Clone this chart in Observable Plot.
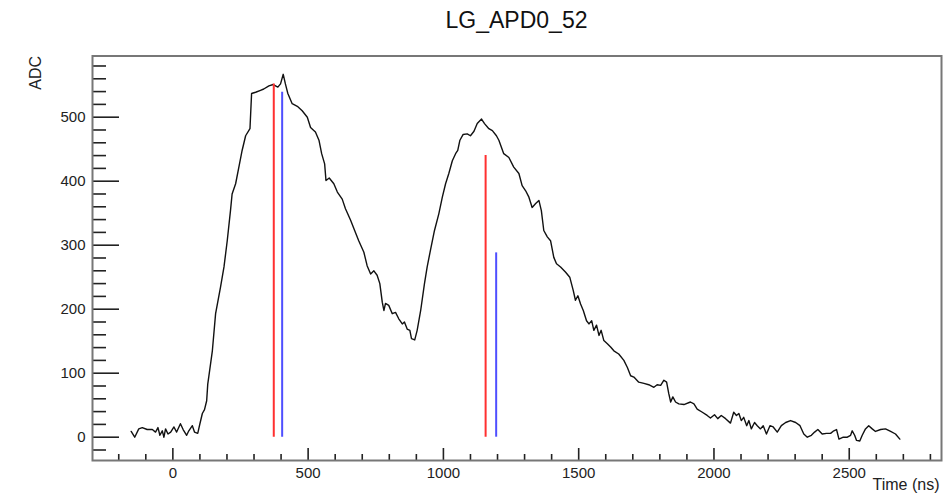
<!DOCTYPE html>
<html><head><meta charset="utf-8">
<script src="https://cdn.jsdelivr.net/npm/d3@7"></script>
<script src="https://cdn.jsdelivr.net/npm/@observablehq/plot@0.6"></script>
<style>
body{margin:0;background:#fff;font-family:"Liberation Sans",Arial,sans-serif;}
#title{height:40px;line-height:40px;font-size:23px;text-align:center;padding-left:92px;padding-right:4px;color:#111;box-sizing:border-box;width:945px;}
#chart svg{display:block;}
</style></head><body>
<div id="title"></div>
<div id="chart"></div>
<script>
const chartTitle = "LG_APD0_52";
const xLabel = "Time (ns)";
const yLabel = "ADC";

const timeNs = [-154,-141,-126,-113,-95,-76,-64,-55,-48,-39,-33,-27,-18,-8,4,14,28,38,51,59,72,80,92,100,109,117,125,129,
133,146,158,176,189,201,213,219,232,244,256,269,285,291,306,324,336,355,371,388,398,408,416,425,441,460,478,497,509,527,540,550,561,566,578,
595,608,626,638,657,669,687,706,718,731,743,755,765,774,780,786,798,811,823,835,848,856,866,876,882,894,903,916,930,940,952,967,983,996,1008,1020,1033,1045,1053,1061,1073,1088,1100,1113,1125,1141,1152,1168,1181,1196,
1205,1223,1242,1260,1279,1291,1304,1316,1328,1341,1353,1362,1371,1384,1396,1408,1418,1433,1451,1467,1480,1488,1497,1507,1517,1529,1538,1548,1556,1566,1575,1583,1593,1606,1618,1630,1648,1667,1680,1692,1704,1722,
1741,1759,1778,1790,1803,1815,1825,1833,1840,1848,1858,1870,1889,1913,1926,1938,1957,1975,1987,2002,2014,2027,2043,2061,2073,2083,2092,2101,2110,2121,2129,2138,2150,2160,2172,2182,2194,2207,2219,2234,2249,2265,2283,2302,2318,2332,2345,2360,2372,2384,2400,2416,2431,2443,2453,2462,2478,2493,2505,2511,2520,2527,2539,2548,2560,2572,2585,2597,2616,2634,2653,2671,2687];
const adc = [9,0,13,15,12,12,8,15,3,10,0,13,5,8,16,8,21,12,3,10,18,8,6,21,37,43,57,83,
95,135,193,234,266,307,354,380,396,422,448,471,482,537,539,542,544,549,551,547,552,567,552,537,521,517,510,500,484,477,464,443,427,401,405,
396,383,372,357,339,326,307,289,268,255,260,253,240,211,198,209,206,193,195,185,177,180,169,167,154,152,167,198,240,266,292,323,349,375,396,412,432,443,448,464,473,474,471,478,490,497,490,482,479,471,
464,443,437,422,412,393,385,375,359,365,370,354,323,313,307,281,271,266,258,250,229,214,221,208,198,182,177,182,167,175,159,167,151,146,141,135,130,120,109,96,94,86,
84,82,78,82,81,89,86,68,55,63,55,52,51,55,52,44,39,34,30,35,29,34,29,22,39,34,37,26,31,18,26,13,23,18,13,18,5,18,16,8,18,23,26,23,18,5,0,3,8,12,5,6,6,10,12,-3,0,0,3,10,3,-5,-6,3,13,18,13,9,12,13,9,5,-3];

const markerTime = [373, 404, 1156, 1195];
const markerTop = [552, 539, 440, 288];
const markerBase = [0, 0, 0, 0];
const markerSeries = ["A", "B", "A", "B"];

const xMajorTicks = [0, 500, 1000, 1500, 2000, 2500];
const xMinorTicks = [-200,-100,100,200,300,400,600,700,800,900,1100,1200,1300,1400,1600,1700,1800,1900,2100,2200,2300,2400,2600,2700,2800];
const yMajorTicks = [0, 100, 200, 300, 400, 500];
const yMinorTicks = [-20,20,40,60,80,120,140,160,180,220,240,260,280,320,340,360,380,420,440,460,480,520,540,560,580];
const xDomain = [-297, 2841];
const yDomain = [-36.4, 595.6];

document.getElementById("title").textContent = chartTitle;

const trace = timeNs.map((t, i) => ({t, v: adc[i]}));
const markers = markerTime.map((t, i) => ({t, top: markerTop[i], base: markerBase[i], s: markerSeries[i]}));
const plain = d => String(d);

const plot = Plot.plot({
  width: 945, height: 459,
  marginLeft: 92, marginRight: 4, marginTop: 15.5, marginBottom: 39,
  style: {fontFamily: "Liberation Sans, Arial, sans-serif", color: "#222", background: "white"},
  x: {domain: xDomain},
  y: {domain: yDomain},
  color: {domain: ["A", "B"], range: ["#ff3030", "#4f4fff"]},
  marks: [
    Plot.line(trace, {x: "t", y: "v", stroke: "#111", strokeWidth: 1.4}),
    Plot.ruleX(markers, {x: "t", y1: "base", y2: "top", stroke: "s", strokeWidth: 2}),
    Plot.axisY(yMajorTicks, {tickSize: -27, fill: "none", strokeWidth: 1.6, label: null}),
    Plot.axisY(yMinorTicks, {tickSize: -14, fill: "none", strokeWidth: 1.6, label: null}),
    Plot.axisY(yMajorTicks, {tickSize: 0, tickPadding: 7, fontSize: 15, tickFormat: plain, label: null}),
    Plot.axisX(xMajorTicks, {tickSize: -12, fill: "none", strokeWidth: 1.6, label: null}),
    Plot.axisX(xMinorTicks, {tickSize: -6, fill: "none", strokeWidth: 1.6, label: null}),
    Plot.axisX(xMajorTicks, {tickSize: 0, tickPadding: 7, fontSize: 15, tickFormat: plain, label: null}),
    Plot.frame({stroke: "#777", strokeWidth: 2}),
    Plot.text([yLabel], {text: d => d, frameAnchor: "top-left", rotate: -90, textAnchor: "end", dx: -63, fontSize: 16}),
    Plot.text([xLabel], {text: d => d, frameAnchor: "bottom-right", textAnchor: "end", dy: 29, dx: -2, fontSize: 16})
  ]
});
document.getElementById("chart").appendChild(plot);
</script>
</body></html>
